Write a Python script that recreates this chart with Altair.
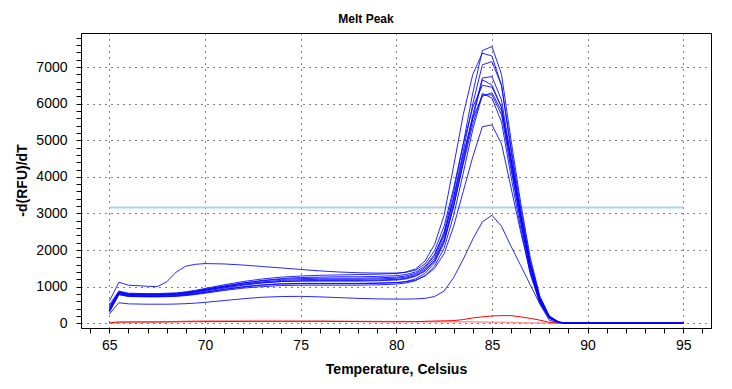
import altair as alt
import pandas as pd

T = [65, 65.5, 66, 67, 67.5, 68, 68.5, 69, 69.5, 70, 71, 72, 73, 74, 75, 76, 77, 78, 79, 80,
     80.5, 81, 81.5, 82, 82.5, 83, 83.5, 84, 84.5, 85, 85.5, 86, 86.5, 87, 87.5, 88, 88.5, 89, 90, 95]

m1 = [430, 860, 800, 790, 790, 800, 810, 840, 880, 930, 1020, 1100, 1160, 1200, 1220, 1230, 1230, 1230, 1240, 1260,
      1290, 1360, 1520, 1850, 2500, 3600, 4900, 6300, 7450, 7560, 6800, 5000, 3300, 1800, 750, 200, 30, 5, 0, 0]
m2 = [500, 880, 820, 810, 810, 820, 830, 860, 900, 950, 1050, 1140, 1210, 1260, 1290, 1310, 1320, 1330, 1340, 1360,
      1400, 1480, 1700, 2150, 2950, 4300, 5700, 6800, 7380, 7300, 6500, 4700, 3000, 1600, 650, 160, 25, 0, 0, 0]
m3 = [380, 830, 780, 770, 770, 780, 790, 815, 850, 900, 990, 1070, 1130, 1170, 1190, 1200, 1200, 1200, 1210, 1230,
      1260, 1330, 1480, 1780, 2400, 3450, 4700, 6000, 7060, 7150, 6500, 4800, 3150, 1700, 700, 180, 30, 0, 0, 0]
m4 = [350, 810, 760, 750, 750, 760, 770, 795, 830, 875, 960, 1040, 1100, 1140, 1160, 1170, 1170, 1170, 1180, 1200,
      1230, 1300, 1440, 1720, 2300, 3300, 4500, 5700, 6700, 6740, 6100, 4500, 2950, 1600, 650, 170, 30, 0, 0, 0]
m5 = [320, 790, 740, 730, 730, 735, 745, 770, 800, 840, 920, 990, 1040, 1070, 1080, 1080, 1080, 1080, 1090, 1110,
      1140, 1210, 1360, 1650, 2200, 3200, 4400, 5600, 6650, 6510, 5900, 4300, 2800, 1450, 580, 140, 20, 0, 0, 0]
m6 = [300, 780, 730, 720, 720, 725, 735, 755, 785, 820, 895, 960, 1000, 1030, 1040, 1040, 1040, 1040, 1050, 1070,
      1100, 1160, 1300, 1560, 2050, 2950, 4100, 5300, 6240, 6240, 5700, 4200, 2750, 1450, 600, 150, 25, 0, 0, 0]
m7 = [400, 840, 790, 775, 775, 785, 795, 820, 855, 900, 985, 1060, 1110, 1140, 1150, 1150, 1150, 1150, 1160, 1180,
      1210, 1280, 1420, 1700, 2250, 3200, 4350, 5450, 6280, 6150, 5500, 4000, 2600, 1350, 540, 130, 20, 0, 0, 0]
m8 = [340, 800, 750, 740, 740, 745, 755, 780, 810, 850, 930, 1000, 1050, 1080, 1090, 1090, 1090, 1090, 1100, 1110,
      1130, 1180, 1290, 1500, 1900, 2650, 3600, 4550, 5370, 5420, 4900, 3700, 2500, 1400, 600, 160, 25, 0, 0, 0]
m9 = [450, 850, 800, 790, 790, 800, 810, 835, 870, 920, 1010, 1100, 1170, 1220, 1250, 1260, 1270, 1270, 1280, 1300,
      1330, 1400, 1560, 1880, 2450, 3400, 4600, 5600, 6200, 6300, 5800, 4400, 2900, 1550, 640, 170, 25, 0, 0, 0]
bump = [600, 1120, 1040, 1010, 1000, 1130, 1400, 1560, 1610, 1630, 1620, 1590, 1550, 1510, 1470, 1430, 1400, 1380, 1370, 1370,
        1390, 1450, 1620, 1980, 2650, 3700, 4900, 5900, 6500, 6450, 5900, 4500, 3000, 1650, 700, 190, 30, 0, 0, 0]
low = [250, 560, 530, 520, 520, 520, 525, 535, 550, 570, 620, 670, 710, 730, 735, 720, 700, 680, 665, 660,
       660, 665, 680, 730, 880, 1250, 1750, 2300, 2770, 2950, 2650, 2100, 1580, 1050, 530, 80, 15, 0, 0, 0]
red1 = [10, 35, 35, 38, 38, 40, 40, 42, 42, 44, 46, 48, 50, 50, 50, 50, 48, 46, 44, 40,
        42, 46, 52, 60, 65, 72, 100, 145, 175, 200, 208, 208, 175, 135, 85, 25, 5, 0, 0, 0]
red2 = [0, 20, 25, 28, 30, 35, 45, 55, 60, 65, 70, 70, 75, 75, 70, 65, 60, 55, 50, 45,
        45, 40, 40, 40, 40, 40, 40, 38, 35, 30, 25, 20, 15, 10, 8, 5, 2, 0, 0, 0]

threshold_T = [65, 95]
threshold_v = [3160, 3160]

x_ticks = list(range(64, 97))          # every degree; labels and grid on multiples of 5
y_ticks = list(range(0, 7801, 200))    # every 200; labels and grid on multiples of 1000

W, H = 630, 295
X_LO, X_HI = 63.52, 96.45
Y_LO, Y_HI = -130, 7930

blue = {"m1": m1, "m2": m2, "m3": m3, "m4": m4, "m5": m5, "m6": m6, "m7": m7,
        "m8": m8, "m9": m9, "bump": bump, "low": low}

rows = []
for name, vals in blue.items():
    for t, v in zip(T, vals):
        rows.append({"T": t, "v": v, "s": name})
df_blue = pd.DataFrame(rows)
df_red1 = pd.DataFrame({"T": T, "v": red1})
df_red2 = pd.DataFrame({"T": T, "v": red2})
df_thr = pd.DataFrame({"T": threshold_T, "v": threshold_v})

FONT = "Liberation Sans"
xs = alt.Scale(domain=[X_LO, X_HI], nice=False, zero=False)
ys = alt.Scale(domain=[Y_LO, Y_HI], nice=False, zero=False)

XMAJ = "datum.value % 5 === 0"
YMAJ = "datum.value % 1000 === 0"

x_axis = alt.Axis(
    orient="bottom", values=x_ticks, tickColor="black", tickSize=5, tickWidth=1,
    domain=True, domainColor="black",
    grid=True, gridDash=[1, 5], gridColor="black",
    gridOpacity={"condition": {"test": XMAJ, "value": 1}, "value": 0},
    labelExpr=f"{XMAJ} ? datum.label : ''",
    labelFont=FONT, labelFontSize=14, labelColor="black", labelPadding=5,
    title="Temperature, Celsius", titleFont=FONT, titleFontSize=14, titleFontWeight="bold",
    titleColor="black", titleX=315, titleY=41, titleAlign="center", titleBaseline="middle")
y_axis = alt.Axis(
    orient="left", values=y_ticks, tickColor="black", format="d", tickSize=5, tickWidth=1,
    domain=True, domainColor="black",
    grid=True, gridDash=[1, 5], gridColor="black",
    gridOpacity={"condition": {"test": YMAJ, "value": 1}, "value": 0},
    labelExpr=f"{YMAJ} ? datum.label : ''",
    labelFont=FONT, labelFontSize=14, labelColor="black", labelPadding=9,
    title="-d(RFU)/dT", titleFont=FONT, titleFontSize=14, titleFontWeight="bold",
    titleColor="black", titleX=-59, titleY=147, titleAngle=270, titleAlign="center",
    titleBaseline="middle")

X = alt.X("T:Q", scale=xs, axis=x_axis)
Y = alt.Y("v:Q", scale=ys, axis=y_axis)

thr = alt.Chart(df_thr).mark_line(color="#a9d6e5", strokeWidth=2).encode(x=X, y=Y)
pink = alt.Chart(df_red2).mark_line(color="#ff7070", strokeWidth=1.5, opacity=0.7).encode(x=X, y=Y)
red = alt.Chart(df_red1).mark_line(color="#ff0000", strokeWidth=1).encode(x=X, y=Y)
lines = alt.Chart(df_blue).mark_line(color="#0000ff", strokeWidth=1, opacity=0.85).encode(
    x=X, y=Y, detail="s:N",
)

chart = alt.layer(thr, pink, red, lines).properties(
    width=W,
    height=H,
    title=alt.TitleParams("Melt Peak", font=FONT, fontSize=12, fontWeight="bold", color="black",
                          anchor="middle", dx=-30, offset=7),
    padding={"left": 73, "top": 25, "right": 5, "bottom": 53},
    autosize=alt.AutoSizeParams(type="none"),
    background="white",
).configure_view(stroke="black", strokeWidth=1)

chart.save("out.html", embed_options={"renderer": "svg", "actions": False})
